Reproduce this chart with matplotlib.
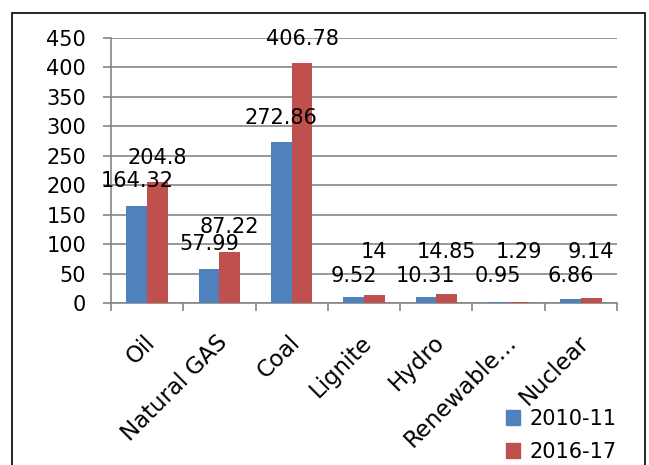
import matplotlib
matplotlib.use("Agg")
import matplotlib.pyplot as plt
import matplotlib.transforms as mtransforms
from matplotlib.patches import Rectangle, Patch
import numpy as np

# Fuentes de energía y consumo en los dos periodos
fuentes = ["Oil", "Natural GAS", "Coal", "Lignite", "Hydro", "Renewable…", "Nuclear"]
v_2010 = [164.32, 57.99, 272.86, 9.52, 10.31, 0.95, 6.86]
v_2016 = [204.8, 87.22, 406.78, 14, 14.85, 1.29, 9.14]
periodos = ["2010-11", "2016-17"]
y_ticks = list(range(0, 451, 50))

AZUL = "#4F81BD"
ROJO = "#C0504D"
GRIS = "#868686"

plt.rcParams["font.family"] = "DejaVu Sans"
plt.rcParams["font.size"] = 15

fig = plt.figure(figsize=(6.49, 4.65), dpi=100)
ax = fig.add_axes([0.171, 0.3484, 0.7797, 0.5699])

x = np.arange(len(fuentes))
ancho = 0.286
b1 = ax.bar(x - ancho / 2, v_2010, ancho, color=AZUL, zorder=3)
b2 = ax.bar(x + ancho / 2, v_2016, ancho, color=ROJO, zorder=3)


def etiquetas(barras, valores, fila_baja):
    # las barras pequeñas llevan la etiqueta en una fila fija para no solaparse
    for b, v in zip(barras, valores):
        y = v + 42 if v >= 20 else fila_baja
        ax.text(b.get_x() + b.get_width() / 2, y, f"{v:g}",
                ha="center", va="center", fontsize=15, zorder=4)


etiquetas(b1, v_2010, 46)
etiquetas(b2, v_2016, 87)

ax.set_xlim(-0.5, len(fuentes) - 0.5)
ax.set_ylim(0, 450)
ax.set_yticks(y_ticks)
ax.yaxis.grid(True, color=GRIS, linewidth=1.2, zorder=0)
ax.set_axisbelow(True)

for s in ["top", "right"]:
    ax.spines[s].set_visible(False)
for s in ["left", "bottom"]:
    ax.spines[s].set_color(GRIS)
    ax.spines[s].set_linewidth(1.2)

ax.tick_params(axis="y", length=6, width=1.2, color=GRIS, pad=12)
# marcas del eje x entre categorías, etiquetas en el centro
ax.set_xticks(np.arange(-0.5, len(fuentes)), minor=False)
ax.set_xticklabels([])
ax.tick_params(axis="x", length=6, width=1.2, color=GRIS)

desplaza = mtransforms.ScaledTranslation(-2.5 / 72, -20 / 72, fig.dpi_scale_trans)
for i, nombre in enumerate(fuentes):
    ax.text(i, 0, nombre, rotation=45, ha="right", va="top",
            rotation_mode="anchor", fontsize=16.5,
            transform=ax.get_xaxis_transform() + desplaza)

fig.legend(handles=[Patch(color=AZUL), Patch(color=ROJO)], labels=periodos,
           loc="upper left", bbox_to_anchor=(506 / 649, 1 - 409 / 465),
           frameon=False, borderpad=0, borderaxespad=0,
           handlelength=0.67, handleheight=0.72, handletextpad=0.45,
           labelspacing=0.62, fontsize=15)

# marco exterior del gráfico
fig.patches.append(Rectangle((12 / 649, -0.1), 633 / 649, 1.1 - 13 / 465,
                             transform=fig.transFigure, fill=False,
                             edgecolor="black", linewidth=1.2))

fig.savefig("out.png", dpi=100)
